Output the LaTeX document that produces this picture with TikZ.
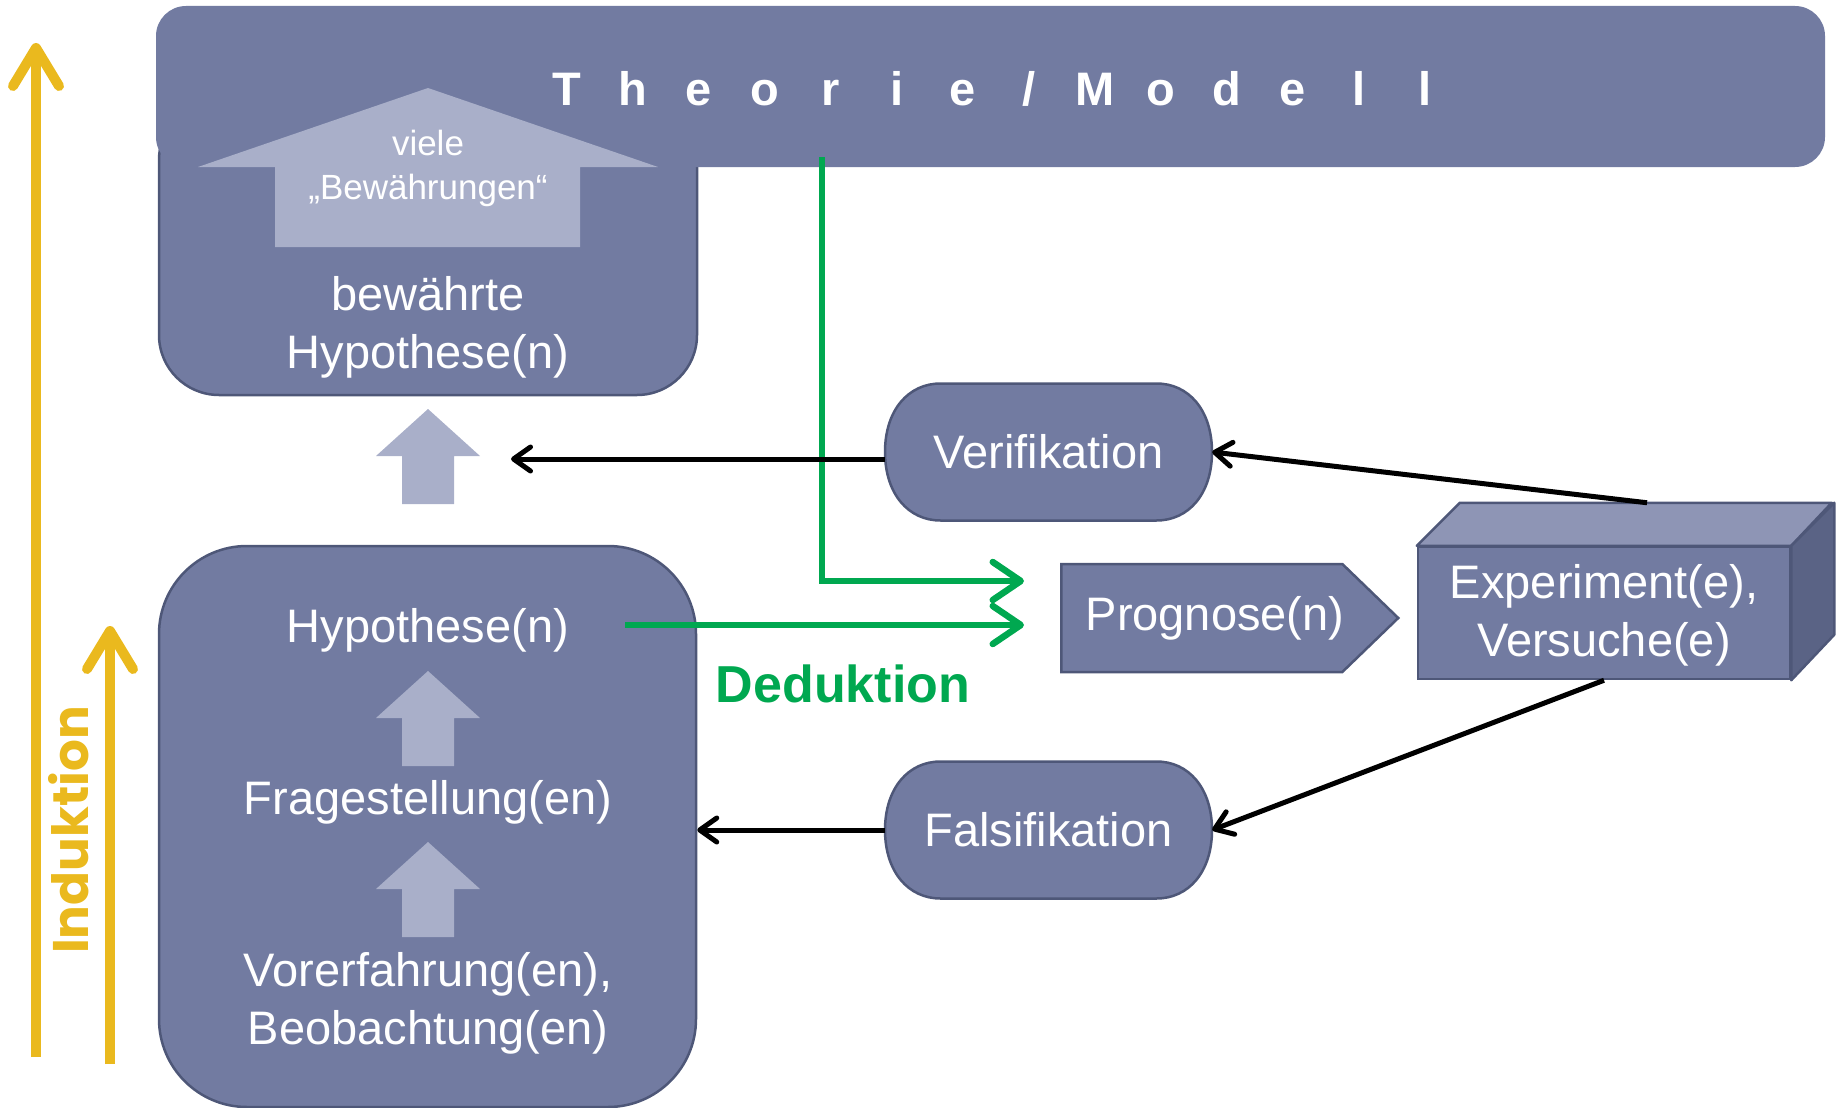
\documentclass[tikz,border=0pt]{standalone}
\usepackage{fontspec}
\setmainfont{Liberation Sans}
\newfontfamily\indfont{Poppins}
\usetikzlibrary{arrows.meta,shapes.symbols}
\definecolor{mainc}{RGB}{114,123,161}
\definecolor{borderc}{RGB}{78,87,120}
\definecolor{lightc}{RGB}{169,175,201}
\definecolor{topc}{RGB}{142,149,181}
\definecolor{sidec}{RGB}{90,99,133}
\definecolor{yellowc}{RGB}{234,185,30}
\definecolor{greenc}{RGB}{0,168,80}
\newcommand\lsp[1]{\makebox[66pt]{#1}}
\begin{document}
\begin{tikzpicture}[x=1pt,y=-1pt,
  lbl/.style={text=white,font=\fontsize{47}{58}\selectfont,align=center,inner sep=0pt},
  smalllbl/.style={text=white,font=\fontsize{35}{44}\selectfont,align=center,inner sep=0pt},
  bigbox/.style={fill=mainc,draw=borderc,line width=2.5pt,inner sep=0pt},
  stadnode/.style={rectangle,inner sep=0pt,minimum width=327pt,minimum height=137pt},
  stadium/.pic={\filldraw[fill=mainc,draw=borderc,line width=2.5pt]
     (-108,-68.5) -- (108,-68.5) .. controls (140,-68.5) and (163.5,-42) .. (163.5,0)
     .. controls (163.5,42) and (140,68.5) .. (108,68.5) -- (-108,68.5)
     .. controls (-140,68.5) and (-163.5,42) .. (-163.5,0)
     .. controls (-163.5,-42) and (-140,-68.5) .. cycle;},
  face/.style={draw=borderc,line width=2.5pt,line join=round},
  yarrow/.style={draw=yellowc,line width=10pt,-{Straight Barb[length=38pt,width=46pt,round]}},
  garrow/.style={draw=greenc,line width=6.5pt,-{Straight Barb[length=28pt,width=38pt,round]}},
  barrow/.style={draw=black,line width=5pt,-{Straight Barb[length=17pt,width=24pt,round]}},
  uparr/.pic={\fill[lightc] (0,0) -- (-52,47) -- (-26,47) -- (-26,95) -- (26,95) -- (26,47) -- (52,47) -- cycle;}
]
\useasboundingbox (0,0) rectangle (1845,1108);

% boxes
\node[bigbox,rounded corners=60pt,minimum width=538pt,minimum height=295pt] (bew) at (428,247.5) {};
\node[fill=mainc,rounded corners=30pt,minimum width=1669pt,minimum height=161pt,inner sep=0pt] (theorie) at (990.5,86.5) {};
\node[bigbox,rounded corners=88pt,minimum width=537pt,minimum height=561pt] (lower) at (427.5,826.5) {};

% big light arrow
\fill[lightc] (428,88) -- (198,167) -- (275,167) -- (275,247) -- (580,247) -- (580,167) -- (658,167) -- cycle;

% texts in top
\node[text=white,font=\bfseries\fontsize{47}{56}\selectfont,anchor=base,inner sep=0pt] (ttext) at (996,105)
  {\lsp{T}\lsp{h}\lsp{e}\lsp{o}\lsp{r}\lsp{i}\lsp{e}\lsp{/}\lsp{M}\lsp{o}\lsp{d}\lsp{e}\lsp{l}\lsp{l}};
\node[smalllbl] (viele) at (428,168) {viele\\„Bewährungen“};
\node[lbl] (bewtext) at (428,327) {bewährte\\Hypothese(n)};

% small light arrows
\pic at (428,409) {uparr};
\pic at (428,671) {uparr};
\pic at (428,842) {uparr};

% texts in lower box
\node[lbl] (hyp) at (428,630) {Hypothese(n)};
\node[lbl] (frage) at (428,802) {Fragestellung(en)};
\node[lbl] (vor) at (428,1003) {Vorerfahrung(en),\\Beobachtung(en)};

% right side nodes
\pic at (1048.5,452) {stadium};
\node[stadnode,lbl] (verif) at (1048.5,452) {Verifikation};
\pic at (1048.5,830) {stadium};
\node[stadnode,lbl] (falsif) at (1048.5,830) {Falsifikation};
\node[signal,signal to=east,signal pointer angle=88,fill=mainc,draw=borderc,line width=2.5pt,inner sep=0pt,minimum width=337pt,minimum height=108pt,anchor=west] (prog) at (1060,618) {};
\node[lbl] at (1215,618) {Prognose(n)};

% experiment box
\node[bigbox,minimum width=372pt,minimum height=132pt] (exp) at (1604,613) {};
\filldraw[face,fill=topc] (exp.north west) -- ++(43,-43) -- ++(372,0) -- (exp.north east) -- cycle;
\filldraw[face,fill=sidec] (exp.north east) -- ++(43,-43) -- ++(0,132) -- (exp.south east) -- cycle;
\node[lbl] at (1604,615) {Experiment(e),\\Versuche(e)};
\coordinate (exptop) at ([xshift=43pt,yshift=43pt]exp.north);

% yellow arrows
\coordinate (y1s) at (36,1057);
\coordinate (y1e) at (36,43);
\coordinate (y2s) at (110,1064);
\coordinate (y2e) at (110,626);
\draw[yarrow] (y1s) -- (y1e);
\draw[yarrow] (y2s) -- (y2e);
\node[text=yellowc,font=\indfont\bfseries\fontsize{50}{60}\selectfont,rotate=90,inner sep=0pt] (induktion) at (69,830) {Induktion};

% green deduction arrows
\coordinate (g1) at (822,157);
\coordinate (g2) at (625,625);
\draw[garrow] (g1) |- ([xshift=-36pt,yshift=37pt]prog.west);
\draw[garrow] (g2) -- ([xshift=-36pt,yshift=-7pt]prog.west);
\node[text=greenc,font=\bfseries\fontsize{52}{60}\selectfont,inner sep=0pt] (dedu) at (843,684) {Deduktion};

% black arrows
\coordinate (vtip) at (511,459);
\draw[barrow] ([yshift=-7pt]verif.west) -- (vtip);
\draw[barrow] (exptop) -- (verif.east);
\draw[barrow] (exp.south) -- (falsif.east);
\draw[barrow] (falsif.west) -- (falsif.west -| lower.east);
\end{tikzpicture}
\end{document}
